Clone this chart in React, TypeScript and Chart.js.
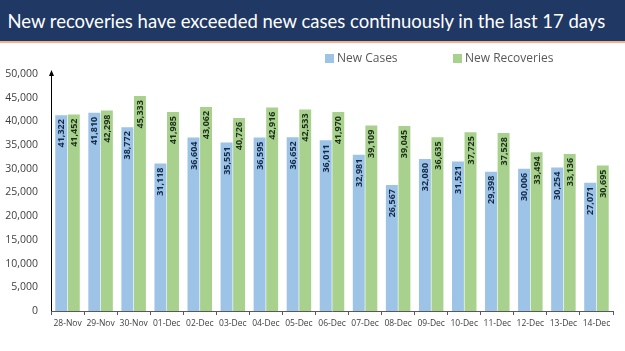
import React, { useEffect, useRef } from "react";
import { Chart, registerables } from "chart.js";

Chart.register(...registerables);

const categories = [
  "28-Nov", "29-Nov", "30-Nov", "01-Dec", "02-Dec", "03-Dec", "04-Dec", "05-Dec", "06-Dec",
  "07-Dec", "08-Dec", "09-Dec", "10-Dec", "11-Dec", "12-Dec", "13-Dec", "14-Dec",
];
const newCases = [
  41322, 41810, 38772, 31118, 36604, 35551, 36595, 36652, 36011,
  32981, 26567, 32080, 31521, 29398, 30006, 30254, 27071,
];
const newRecoveries = [
  41452, 42298, 45333, 41985, 43062, 40726, 42916, 42533, 41970,
  39109, 39045, 36635, 37725, 37528, 33494, 33136, 30695,
];
const yTicks = [0, 5000, 10000, 15000, 20000, 25000, 30000, 35000, 40000, 45000, 50000];

const TITLE = "New recoveries have exceeded new cases continuously in the last 17 days";
const BLUE = "#9dc3e6";
const GREEN = "#a9d18e";
const LABEL_COLORS = ["#13294b", "#1c2f18"];

const fmt = (v: number) => v.toLocaleString("en-US");

const labelPlugin = {
  id: "barLabels",
  afterDatasetsDraw(chart: any) {
    const ctx = chart.ctx;
    chart.data.datasets.forEach((ds: any, di: number) => {
      const meta = chart.getDatasetMeta(di);
      meta.data.forEach((bar: any, i: number) => {
        ctx.save();
        ctx.translate(bar.x + 0.5, bar.y + 4);
        ctx.rotate(-Math.PI / 2);
        ctx.font = "bold 9px 'Open Sans'";
        ctx.fillStyle = LABEL_COLORS[di];
        ctx.textAlign = "right";
        ctx.textBaseline = "middle";
        ctx.fillText(fmt(ds.data[i]), 0, 0);
        ctx.restore();
      });
    });
  },
};

const legendPlugin = {
  id: "customLegend",
  afterDraw(chart: any) {
    const ctx = chart.ctx;
    const xs = [325, 453];
    chart.data.datasets.forEach((ds: any, di: number) => {
      const x = xs[di];
      const y = 15;
      ctx.save();
      ctx.fillStyle = ds.backgroundColor;
      ctx.fillRect(x, y - 4, 9, 9);
      ctx.fillStyle = "#595959";
      ctx.font = "12px 'Open Sans'";
      ctx.textAlign = "left";
      ctx.textBaseline = "middle";
      ctx.fillText(ds.label, x + 12, y + 1);
      ctx.restore();
    });
  },
};

const arrowPlugin = {
  id: "yArrow",
  afterDraw(chart: any) {
    const ctx = chart.ctx;
    const a = chart.chartArea;
    const x = a.left + 0.5;
    ctx.save();
    ctx.strokeStyle = "#000";
    ctx.lineWidth = 1;
    ctx.beginPath();
    ctx.moveTo(x, a.bottom);
    ctx.lineTo(x, a.top - 2);
    ctx.stroke();
    ctx.fillStyle = "#000";
    ctx.beginPath();
    ctx.moveTo(x, a.top - 4);
    ctx.lineTo(x - 2.5, a.top + 2);
    ctx.lineTo(x + 2.5, a.top + 2);
    ctx.closePath();
    ctx.fill();
    ctx.restore();
  },
};

export default function App() {
  const ref = useRef<HTMLCanvasElement>(null);
  useEffect(() => {
    if (!ref.current) return;
    const chart = new Chart(ref.current, {
      type: "bar",
      data: {
        labels: categories,
        datasets: [
          { label: "New Cases", data: newCases, backgroundColor: BLUE, barPercentage: 0.95, categoryPercentage: 0.76 },
          { label: "New Recoveries", data: newRecoveries, backgroundColor: GREEN, barPercentage: 0.95, categoryPercentage: 0.76 },
        ],
      },
      options: {
        animation: false,
        responsive: false,
        layout: { padding: { top: 31, right: 12, left: 0, bottom: 0 } },
        plugins: { legend: { display: false }, tooltip: { enabled: false }, title: { display: false } },
        scales: {
          x: {
            grid: { display: true, offset: true, drawOnChartArea: false, tickLength: 4, color: "#595959" },
            border: { display: true, color: "#595959" },
            ticks: { color: "#404040", font: { family: "'Open Sans'", size: 8.5 }, maxRotation: 0, autoSkip: false, padding: 3 },
            afterFit: (s: any) => { s.height = 40; },
          },
          y: {
            min: 0,
            max: 50000,
            afterBuildTicks: (s: any) => { s.ticks = yTicks.map((v) => ({ value: v })); },
            grid: { display: false },
            border: { display: false },
            ticks: { color: "#404040", font: { family: "'Open Sans'", size: 10.5 }, padding: 5, callback: (v: any) => fmt(Number(v)) },
            afterFit: (s: any) => { s.width = 51; },
          },
        },
      },
      plugins: [labelPlugin, legendPlugin, arrowPlugin],
    });
    return () => chart.destroy();
  }, []);

  return (
    <div style={{ position: "fixed", left: 0, top: 0, width: 625, height: 351, background: "#fff", overflow: "hidden" }}>
      <div
        style={{
          height: 41,
          background: "#203864",
          borderBottom: "2px solid #f4b183",
          overflow: "hidden",
        }}
      >
        <div
          style={{
            color: "#fff",
            fontFamily: "Lato, 'Open Sans', sans-serif",
            fontSize: 20,
            lineHeight: "41px",
            paddingLeft: 8,
            whiteSpace: "nowrap",
            transform: "scaleX(0.925)",
            transformOrigin: "0 50%",
          }}
        >
          {TITLE}
        </div>
      </div>
      <canvas ref={ref} width={625} height={308} style={{ display: "block" }} />
    </div>
  );
}
